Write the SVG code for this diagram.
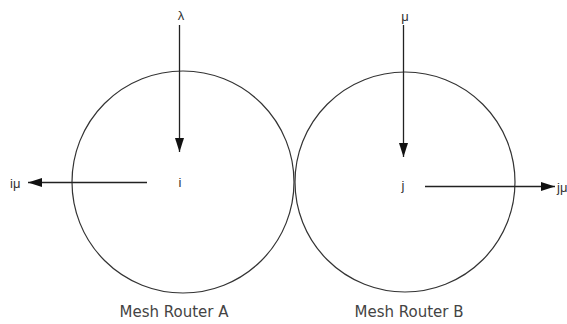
<svg xmlns="http://www.w3.org/2000/svg" width="567" height="324" viewBox="0 0 567 324">
<defs>
<marker id="ah" viewBox="0 0 14 10" refX="14" refY="5" markerWidth="14" markerHeight="10" markerUnits="userSpaceOnUse" orient="auto">
<path d="M0,0.5 L14,5 L0,9.5 Z" fill="#111"/>
</marker>
</defs>
<style>
.c{fill:none;stroke:#333;stroke-width:1.2}
.l{stroke:#222;stroke-width:1.3;fill:none}
.t{font-family:"Liberation Sans",Arial,sans-serif;fill:#333}
.n{font-family:"DejaVu Sans","Liberation Sans",sans-serif;fill:#444;font-size:15px}
</style>
<rect width="567" height="324" fill="#fff"/>
<g id="routerA">
<circle class="c" cx="183" cy="182" r="111"/>
<text class="t" x="180" y="187" font-size="13" text-anchor="middle">i</text>
<text class="n" x="174" y="317" text-anchor="middle">Mesh Router A</text>
</g>
<g id="routerB">
<circle class="c" cx="405" cy="182" r="110"/>
<text class="t" x="403" y="190" font-size="13" text-anchor="middle">j</text>
<text class="n" x="409" y="317" text-anchor="middle">Mesh Router B</text>
</g>
<g id="labels">
<text class="t" x="181" y="20" font-size="13" text-anchor="middle">λ</text>
<text class="t" x="405" y="21" font-size="13" text-anchor="middle">μ</text>
<text class="t" x="10" y="188" font-size="13">iμ</text>
<text class="t" x="557" y="192" font-size="13">jμ</text>
</g>
<g id="connectors">
<line class="l" x1="179.5" y1="25" x2="179.5" y2="152" marker-end="url(#ah)"/>
<line class="l" x1="403.5" y1="25" x2="403.5" y2="157" marker-end="url(#ah)"/>
<line class="l" x1="147" y1="182.5" x2="28" y2="182.5" marker-end="url(#ah)"/>
<line class="l" x1="425" y1="186.5" x2="555" y2="186.5" marker-end="url(#ah)"/>
</g>
</svg>
